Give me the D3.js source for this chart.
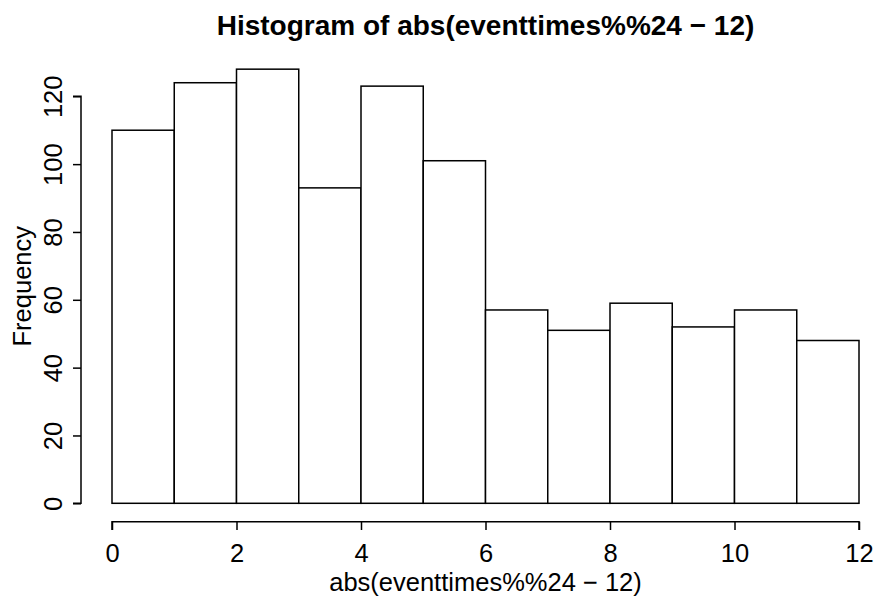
<!DOCTYPE html>
<html>
<head>
<meta charset="utf-8">
<script src="https://cdn.jsdelivr.net/npm/d3@7"></script>
<style>
  html, body { margin: 0; padding: 0; background: #fff; }
  svg { display: block; font-family: "Liberation Sans", Arial, Helvetica, sans-serif; }
</style>
</head>
<body>
<svg id="chart" width="877" height="597"></svg>
<script>
// Histogram bins (left edges) and counts
const binStarts = [0, 1, 2, 3, 4, 5, 6, 7, 8, 9, 10, 11];
const binWidth = 1;
const counts = [110, 124, 128, 93, 123, 101, 57, 51, 59, 52, 57, 48];
const xTicks = [0, 2, 4, 6, 8, 10, 12];
const yTicks = [0, 20, 40, 60, 80, 100, 120];

const titleText = "Histogram of abs(eventtimes%%24 \u2212 12)";
const xLabel = "abs(eventtimes%%24 \u2212 12)";
const yLabel = "Frequency";

const axisFont = 25.5;
const titleFont = 28;
const lw = 1.5;

const svg = d3.select("#chart");

const x = d3.scaleLinear().domain([0, 12]).range([112, 859]);
const y = d3.scaleLinear().domain([0, 120]).range([503.3, 96.3]);

// Bars
svg.append("g")
  .selectAll("rect")
  .data(binStarts)
  .join("rect")
  .attr("x", (d) => x(d))
  .attr("width", (d) => x(d + binWidth) - x(d))
  .attr("y", (d, i) => y(counts[i]))
  .attr("height", (d, i) => y(0) - y(counts[i]))
  .attr("fill", "#fff")
  .attr("stroke", "#000")
  .attr("stroke-width", lw);

// X axis
const xAxis = svg.append("g")
  .attr("transform", "translate(0,521.7)")
  .call(d3.axisBottom(x).tickValues(xTicks).tickSize(8.3).tickFormat(d3.format("d")));
xAxis.attr("font-size", null).attr("font-family", null);
xAxis.select(".domain").attr("stroke-width", lw).attr("d", `M${x(0)},8.3V0H${x(12)}V8.3`);
xAxis.selectAll(".tick line").attr("stroke-width", lw);
xAxis.selectAll(".tick text")
  .style("font-size", axisFont + "px")
  .attr("fill", "#000")
  .attr("dy", null)
  .attr("y", 40.5);

// Y axis
const yAxis = svg.append("g")
  .attr("transform", "translate(81,0)")
  .call(d3.axisLeft(y).tickValues(yTicks).tickSize(8).tickFormat(d3.format("d")));
yAxis.attr("font-size", null).attr("font-family", null);
yAxis.select(".domain").attr("stroke-width", lw).attr("d", `M-8,${y(0)}H0V${y(120)}H-8`);
yAxis.selectAll(".tick line").attr("stroke-width", lw);
yAxis.selectAll(".tick text")
  .style("font-size", axisFont + "px")
  .attr("fill", "#000")
  .attr("x", null).attr("dy", null)
  .attr("text-anchor", "middle")
  .attr("transform", "translate(-19.5,0) rotate(-90)");

// Title
svg.append("text")
  .attr("x", (x(0) + x(12)) / 2)
  .attr("y", 35)
  .attr("text-anchor", "middle")
  .style("font-size", titleFont + "px")
  .attr("font-weight", "bold")
  .text(titleText);

// Axis titles
svg.append("text")
  .attr("x", (x(0) + x(12)) / 2)
  .attr("y", 591)
  .attr("text-anchor", "middle")
  .style("font-size", axisFont + "px")
  .text(xLabel);

svg.append("text")
  .attr("transform", `translate(31,${(y(-5.12) + y(133.12)) / 2}) rotate(-90)`)
  .attr("text-anchor", "middle")
  .style("font-size", axisFont + "px")
  .text(yLabel);
</script>
</body>
</html>
